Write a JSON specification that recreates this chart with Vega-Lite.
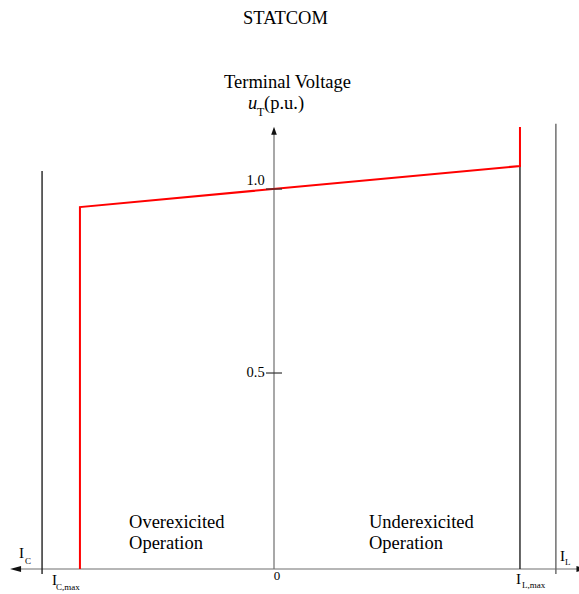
{
  "$schema": "https://vega.github.io/schema/vega-lite/v6.json",
  "width": 579,
  "height": 594,
  "padding": 0,
  "autosize": "none",
  "background": "white",
  "config": {
    "view": {"stroke": null},
    "text": {"font": "Liberation Serif", "color": "#000000"}
  },
  "datasets": {
    "characteristic": [
      {"current": -0.789, "voltage": -0.0326, "step": 1},
      {"current": -0.789, "voltage": 0.951, "step": 2},
      {"current": 1.0, "voltage": 1.0625, "step": 3},
      {"current": 1.0, "voltage": 1.1685, "step": 4}
    ],
    "axes": [
      {"x": -1.051, "x2": 1.252, "y": -0.0326, "y2": -0.0326},
      {"x": 0, "x2": 0, "y": -0.0326, "y2": 1.158}
    ],
    "limits": [
      {"x": -0.943, "x2": -0.943, "y": -0.046, "y2": 1.049, "c": "dark"},
      {"x": 1.146, "x2": 1.146, "y": -0.046, "y2": 1.177, "c": "grey"},
      {"x": 1.0, "x2": 1.0, "y": -0.0326, "y2": 1.0625, "c": "dark"}
    ],
    "ticks": [
      {"v": 1.0, "label": "1.0", "ly": 1.0109},
      {"v": 0.5, "label": "0.5", "ly": 0.489}
    ],
    "headings": [
      {"t": "STATCOM", "x": 0.0467, "y": 1.4484},
      {"t": "Terminal Voltage", "x": 0.0549, "y": 1.2745}
    ],
    "words": [
      {"t": "Overexicited", "x": -0.5894, "y": 0.0788},
      {"t": "Operation", "x": -0.5894, "y": 0.0217},
      {"t": "Underexicited", "x": 0.3862, "y": 0.0788},
      {"t": "Operation", "x": 0.3862, "y": 0.0217},
      {"t": "(p.u.)", "x": -0.0407, "y": 1.2174}
    ],
    "mains": [
      {"t": "I", "x": -1.0366, "y": -0.0027},
      {"t": "I", "x": -0.9024, "y": -0.0761},
      {"t": "I", "x": 0.9837, "y": -0.0734},
      {"t": "I", "x": 1.1626, "y": -0.0109}
    ],
    "subs": [
      {"t": "C", "x": -1.0122, "y": -0.019},
      {"t": "C,max", "x": -0.8862, "y": -0.0897},
      {"t": "L,max", "x": 1.0081, "y": -0.0842},
      {"t": "L", "x": 1.1829, "y": -0.0217}
    ]
  },
  "layer": [
    {
      "data": {"name": "axes"},
      "mark": {"type": "rule", "color": "#6e6e6e", "strokeWidth": 1.2},
      "encoding": {
        "x": {"field": "x", "type": "quantitative", "axis": null, "scale": {"domain": [-1.114, 1.24], "nice": false, "zero": false}},
        "x2": {"field": "x2"},
        "y": {"field": "y", "type": "quantitative", "axis": null, "scale": {"domain": [-0.1005, 1.5136], "nice": false, "zero": false}},
        "y2": {"field": "y2"}
      }
    },
    {
      "data": {"name": "limits"},
      "mark": {"type": "rule", "strokeWidth": 1.4},
      "encoding": {
        "x": {"field": "x", "type": "quantitative"},
        "x2": {"field": "x2"},
        "y": {"field": "y", "type": "quantitative"},
        "y2": {"field": "y2"},
        "color": {"field": "c", "type": "nominal", "legend": null, "scale": {"domain": ["dark", "grey"], "range": ["#222222", "#666666"]}}
      }
    },
    {
      "data": {"name": "characteristic"},
      "mark": {"type": "line", "color": "#ff0000", "strokeWidth": 2, "strokeJoin": "miter"},
      "encoding": {
        "x": {"field": "current", "type": "quantitative"},
        "y": {"field": "voltage", "type": "quantitative"},
        "order": {"field": "step"}
      }
    },
    {
      "data": {"name": "ticks"},
      "mark": {"type": "rule", "color": "#333333", "strokeWidth": 1.2},
      "encoding": {
        "x": {"datum": -0.0325, "type": "quantitative"},
        "x2": {"datum": 0.0325},
        "y": {"field": "v", "type": "quantitative"}
      }
    },
    {
      "data": {"name": "ticks"},
      "mark": {"type": "text", "align": "right", "baseline": "alphabetic", "fontSize": 14.5},
      "encoding": {
        "x": {"datum": -0.038, "type": "quantitative"},
        "y": {"field": "ly", "type": "quantitative"},
        "text": {"field": "label"}
      }
    },
    {
      "data": {"values": [{"x": 0, "y": 1.158}]},
      "mark": {"type": "point", "shape": "M0,-1L0.7,1L-0.7,1Z", "size": 64, "filled": true, "color": "#111111", "opacity": 1},
      "encoding": {
        "x": {"field": "x", "type": "quantitative"},
        "y": {"field": "y", "type": "quantitative"}
      }
    },
    {
      "data": {"values": [{"x": -1.0508, "y": -0.0326}]},
      "mark": {"type": "point", "shape": "M-1,0L1,-0.55L1,0.55Z", "size": 121, "filled": true, "color": "#111111", "opacity": 1},
      "encoding": {
        "x": {"field": "x", "type": "quantitative"},
        "y": {"field": "y", "type": "quantitative"}
      }
    },
    {
      "data": {"values": [{"x": 1.252, "y": -0.0326}]},
      "mark": {"type": "point", "shape": "M1,0L-1,-0.55L-1,0.55Z", "size": 121, "filled": true, "color": "#111111", "opacity": 1},
      "encoding": {
        "x": {"field": "x", "type": "quantitative"},
        "y": {"field": "y", "type": "quantitative"}
      }
    },
    {
      "data": {"name": "headings"},
      "mark": {"type": "text", "align": "center", "baseline": "alphabetic", "fontSize": 18.5},
      "encoding": {
        "x": {"field": "x", "type": "quantitative"},
        "y": {"field": "y", "type": "quantitative"},
        "text": {"field": "t"}
      }
    },
    {
      "data": {"values": [{"t": "u", "x": -0.1057, "y": 1.2174}]},
      "mark": {"type": "text", "align": "left", "baseline": "alphabetic", "fontSize": 18.5, "fontStyle": "italic"},
      "encoding": {
        "x": {"field": "x", "type": "quantitative"},
        "y": {"field": "y", "type": "quantitative"},
        "text": {"field": "t"}
      }
    },
    {
      "data": {"values": [{"t": "T", "x": -0.0691, "y": 1.1984}]},
      "mark": {"type": "text", "align": "left", "baseline": "alphabetic", "fontSize": 12},
      "encoding": {
        "x": {"field": "x", "type": "quantitative"},
        "y": {"field": "y", "type": "quantitative"},
        "text": {"field": "t"}
      }
    },
    {
      "data": {"name": "words"},
      "mark": {"type": "text", "align": "left", "baseline": "alphabetic", "fontSize": 18.5},
      "encoding": {
        "x": {"field": "x", "type": "quantitative"},
        "y": {"field": "y", "type": "quantitative"},
        "text": {"field": "t"}
      }
    },
    {
      "data": {"name": "mains"},
      "mark": {"type": "text", "align": "left", "baseline": "alphabetic", "fontSize": 15},
      "encoding": {
        "x": {"field": "x", "type": "quantitative"},
        "y": {"field": "y", "type": "quantitative"},
        "text": {"field": "t"}
      }
    },
    {
      "data": {"name": "subs"},
      "mark": {"type": "text", "align": "left", "baseline": "alphabetic", "fontSize": 9},
      "encoding": {
        "x": {"field": "x", "type": "quantitative"},
        "y": {"field": "y", "type": "quantitative"},
        "text": {"field": "t"}
      }
    },
    {
      "data": {"values": [{"t": "0", "x": 0.0122, "y": -0.0625}]},
      "mark": {"type": "text", "align": "center", "baseline": "alphabetic", "fontSize": 13},
      "encoding": {
        "x": {"field": "x", "type": "quantitative"},
        "y": {"field": "y", "type": "quantitative"},
        "text": {"field": "t"}
      }
    }
  ]
}
